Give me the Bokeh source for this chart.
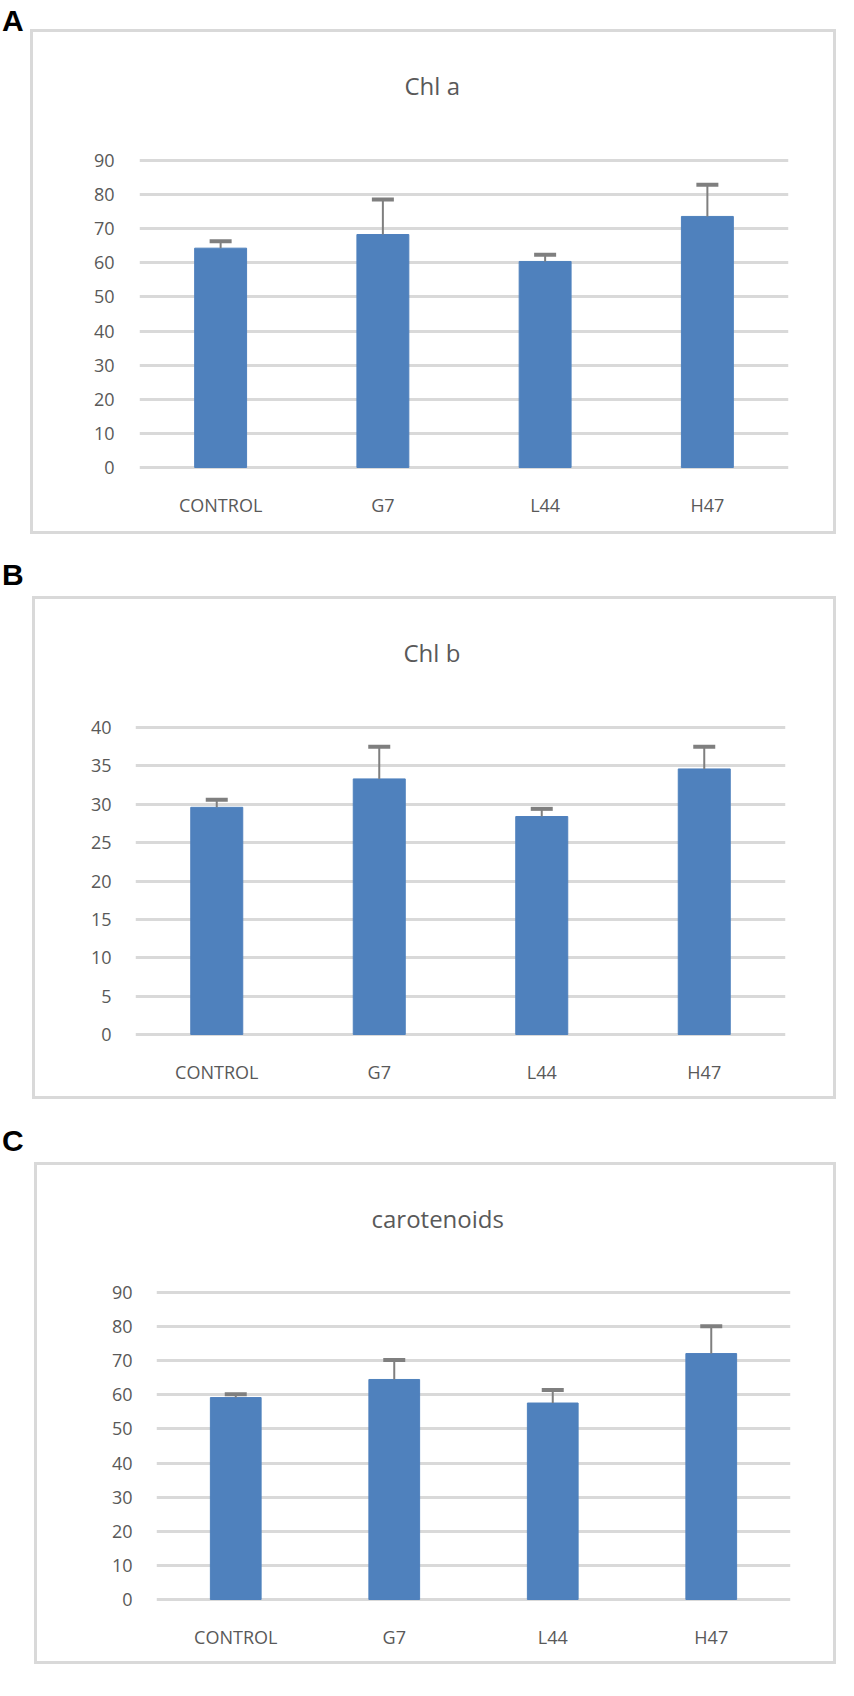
from bokeh.plotting import figure
from bokeh.models import (ColumnDataSource, FactorRange, Range1d, FixedTicker,
                          Whisker, TeeHead, Title, Div)
from bokeh.layouts import column, row
from bokeh.embed import file_html
from bokeh.resources import INLINE

# ---------------- data ----------------
categories = ["CONTROL", "G7", "L44", "H47"]

chl_a = [64.3, 68.3, 60.4, 73.6]
chl_a_err = [2.0, 10.3, 2.0, 9.3]

chl_b = [29.6, 33.3, 28.4, 34.6]
chl_b_err = [1.0, 4.2, 1.0, 2.9]

carotenoids = [59.2, 64.5, 57.6, 72.1]
carotenoids_err = [1.0, 5.7, 3.8, 8.0]

ticks_a = [0, 10, 20, 30, 40, 50, 60, 70, 80, 90]
ticks_b = [0, 5, 10, 15, 20, 25, 30, 35, 40]
ticks_c = [0, 10, 20, 30, 40, 50, 60, 70, 80, 90]

titles = ["Chl a", "Chl b", "carotenoids"]
letters = ["A", "B", "C"]

BAR = "#4F81BD"
ERR = "#7F7F7F"
GRID = "#D9D9D9"
TXT = "#595959"
FONT = "Open Sans"


def make_panel(title, values, errs, ticks, cfg):
    W, H = cfg["w"], cfg["h"]
    src = ColumnDataSource(dict(cat=categories, value=values,
                                upper=[v + e for v, e in zip(values, errs)]))
    p = figure(width=W, height=H, output_backend="svg", toolbar_location=None,
               x_range=FactorRange(factors=categories, range_padding=0),
               y_range=Range1d(cfg["ymin"], cfg["ymax"]),
               min_border_left=cfg["fl"], min_border_right=W - cfg["fr"],
               min_border_top=cfg["ft"], min_border_bottom=H - cfg["fb"],
               margin=(cfg["mt"], 0, 0, cfg["ml"]),
               styles={"border": "3px solid " + GRID})
    p.outline_line_color = None
    p.background_fill_color = "white"
    p.border_fill_color = "white"

    p.vbar(x="cat", top="value", width=0.32, source=src,
           fill_color=BAR, line_color=BAR)

    wh = Whisker(base="cat", lower="value", upper="upper", source=src,
                 line_color=ERR, line_width=2,
                 upper_head=TeeHead(size=22, line_color=ERR, line_width=4),
                 lower_head=None, level="overlay")
    p.add_layout(wh)

    ticker = FixedTicker(ticks=ticks)
    p.yaxis.ticker = ticker
    p.ygrid.ticker = ticker
    p.xgrid.grid_line_color = None
    p.ygrid.grid_line_color = GRID
    p.ygrid.grid_line_width = 3

    for ax in (p.xaxis, p.yaxis):
        ax.axis_line_color = None
        ax.major_tick_line_color = None
        ax.minor_tick_line_color = None
        ax.major_label_text_color = TXT
        ax.major_label_text_font = FONT
        ax.major_label_text_font_size = "18px"
    p.yaxis.major_label_standoff = cfg["ystand"]
    p.xaxis.major_label_standoff = 17

    # spacer between chart title and plot area (added first -> nearest the frame)
    p.add_layout(Title(text="\u200b", text_font_size="2px", standoff=cfg["gap"],
                       text_color="white"), "above")
    p.add_layout(Title(text=title, align="left", offset=cfg["toff"],
                       vertical_align="bottom", standoff=0,
                       text_font=FONT, text_font_size="24px",
                       text_font_style="normal", text_color=TXT), "above")
    return p


def make_letter(letter, mt):
    return Div(text=letter, width=28, height=30, margin=(mt, 0, 0, 2),
               styles={"font-family": "Liberation Sans", "font-weight": "bold",
                       "font-size": "30px", "line-height": "30px", "color": "black"})


cfgA = dict(w=806, h=505, mt=29, ml=0, fl=106, fr=755, ft=126, fb=437,
            ymin=-0.586, ymax=90.586, ystand=19, toff=265, gap=53)
cfgB = dict(w=804, h=503, mt=62, ml=2, fl=100, fr=750, ft=126, fb=437,
            ymin=-0.26, ymax=40.26, ystand=18, toff=268, gap=53)
cfgC = dict(w=802, h=502, mt=63, ml=4, fl=119, fr=753, ft=125, fb=436,
            ymin=-0.586, ymax=90.586, ystand=18, toff=215, gap=52)

pA = make_panel(titles[0], chl_a, chl_a_err, ticks_a, cfgA)
pB = make_panel(titles[1], chl_b, chl_b_err, ticks_b, cfgB)
pC = make_panel(titles[2], carotenoids, carotenoids_err, ticks_c, cfgC)

layout = column(
    row(make_letter(letters[0], 6), pA),
    row(make_letter(letters[1], 26), pB),
    row(make_letter(letters[2], 27), pC),
    spacing=0,
)
open("out.html", "w").write(file_html(layout, INLINE))
